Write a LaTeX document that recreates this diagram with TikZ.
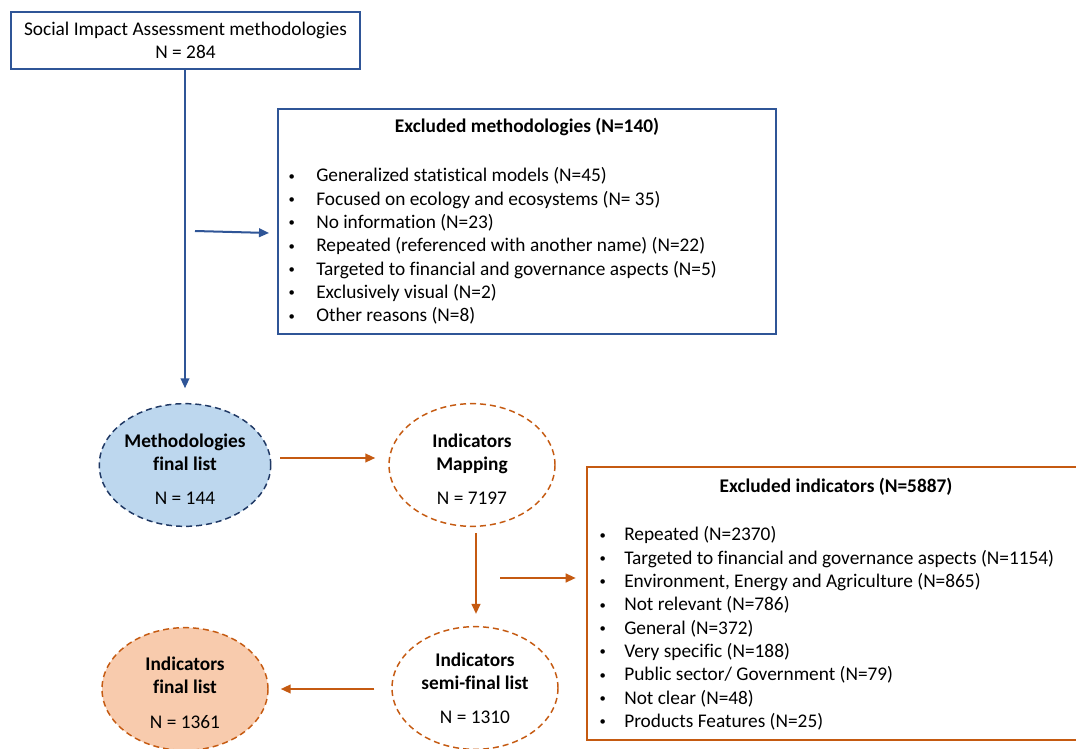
\documentclass[tikz,border=0pt]{standalone}
\usepackage{fontspec}
\setmainfont{Carlito}[Ligatures={NoCommon}]
\usetikzlibrary{arrows.meta,shapes.geometric}
\definecolor{mblue}{HTML}{2F5597}
\definecolor{navy}{HTML}{1F3864}
\definecolor{lblue}{HTML}{BDD7EE}
\definecolor{orng}{HTML}{C55A11}
\definecolor{peach}{HTML}{F8CBAD}
\newcommand{\fsz}{\fontsize{14.5}{17.5}\selectfont}
\tikzset{
  every node/.style={font=\fsz, text=black},
  boldtxt/.style={font=\fsz\bfseries, inner sep=0pt},
  listtxt/.style={align=left, inner sep=0pt, anchor=north west},
  sqbox/.style={rectangle, line width=1.5pt, align=center, inner sep=0pt},
  ovl/.style={ellipse, line width=1.1pt, dash pattern=on 4.5pt off 3pt, align=center, inner sep=0pt,
    minimum width=124.5pt, minimum height=92pt},
  barrow/.style={draw=mblue, line width=1.5pt, -{Triangle[length=7.5pt,width=6.5pt]}},
  oarrow/.style={draw=orng, line width=1.5pt, -{Triangle[length=7.5pt,width=6.5pt]}},
}
\newcommand{\smbul}{{\fontsize{9.5}{9.5}\selectfont\raisebox{1.2pt}{•}}}
\newcommand{\bm}{\makebox[21.75pt][l]{\hspace{1pt}\smbul}}
\newcommand{\bi}{\makebox[19.5pt][l]{\hspace{1pt}\smbul}}
\newcommand{\up}{\rule{0pt}{16pt}}
\begin{document}
\begin{tikzpicture}[x=0.75pt,y=-0.75pt]
\useasboundingbox (0,0) rectangle (1076,749);
\clip (0,0) rectangle (1076,749);
\fill[white] (0,0) rectangle (1076,749);

% top box
\node[sqbox, draw=mblue, minimum width=261.75pt, minimum height=42.75pt] (top) at (185.5,40.5)
  {Social Impact Assessment methodologies\\N = 284};

% excluded methodologies
\node[sqbox, draw=mblue, minimum width=373.5pt, minimum height=168.75pt] (exm) at (527,221.5) {};
\node[boldtxt] (exmt) at (527,127) {Excluded methodologies (N=140)};
\node[listtxt] (exml) at (287,167.5) {%
\bm Generalized statistical models (N=45)\\
\bm Focused on ecology and ecosystems (N= 35)\\
\bm No information (N=23)\\
\bm Repeated (referenced with another name) (N=22)\\
\bm Targeted to financial and governance aspects (N=5)\\
\bm Exclusively visual (N=2)\\
\bm Other reasons (N=8)};

% ellipses
\node[ovl, draw=navy, fill=lblue] (meth) at (185,465)
  {\up\textbf{Methodologies}\\\textbf{final list}\\[8pt]N = 144};
\node[ovl, draw=orng, fill=white] (map) at (472,465)
  {\up\textbf{Indicators}\\\textbf{Mapping}\\[8pt]N = 7197};
\node[ovl, draw=orng, fill=white] (semi) at (475,688)
  {\textbf{Indicators}\\\textbf{semi-final list}\\[8pt]N = 1310};
\node[ovl, draw=orng, fill=peach] (fin) at (185,689)
  {\up\textbf{Indicators}\\\textbf{final list}\\[9pt]N = 1361};

% excluded indicators
\node[sqbox, draw=orng, line width=1.9pt, minimum width=373.5pt, minimum height=204.75pt] (exi) at (836,603.5) {};
\node[boldtxt] (exit) at (836,487) {Excluded indicators (N=5887)};
\node[listtxt] (exil) at (598,526.5) {%
\bi Repeated (N=2370)\\
\bi Targeted to financial and governance aspects (N=1154)\\
\bi Environment, Energy and Agriculture (N=865)\\
\bi Not relevant (N=786)\\
\bi General (N=372)\\
\bi Very specific (N=188)\\
\bi Public sector/ Government (N=79)\\
\bi Not clear (N=48)\\
\bi Products Features (N=25)};

% connectors
\draw[barrow, shorten >=11pt] (top.south -| meth.north) -- (meth.north);
\coordinate (b1) at (195,231);
\coordinate (b2) at (269,233);
\draw[barrow] (b1) -- (b2);
\draw[oarrow] ([shift={(9,-7)}]meth.east) -- ([shift={(-13,-7)}]map.west);
\draw[oarrow] ([shift={(4,6)}]map.south) -- ([shift={(1,-12)}]semi.north);
\coordinate (b3) at (500,578);
\draw[oarrow, shorten >=7.5pt] (b3) -- (b3 -| exi.west);
\draw[oarrow] ([shift={(-17,1)}]semi.west) -- ([shift={(12,0)}]fin.east);
\end{tikzpicture}
\end{document}
